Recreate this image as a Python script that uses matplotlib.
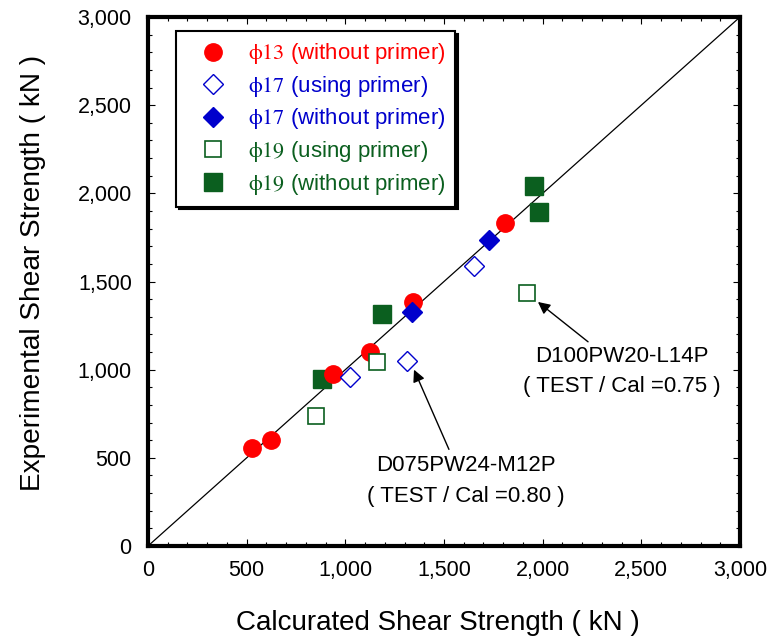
import matplotlib
matplotlib.use('agg')
import matplotlib.pyplot as plt
from matplotlib.ticker import AutoMinorLocator, FuncFormatter, MultipleLocator

plt.rcParams['font.family'] = ['Liberation Sans', 'DejaVu Sans']
plt.rcParams['mathtext.fontset'] = 'stix'

RED = '#ff0000'
BLUE = '#0000cc'
GREEN = '#0b5f1f'

# (calculated, experimental) in kN
phi13_wo_x = [525, 623, 937, 1125, 1344, 1811]
phi13_wo_y = [554, 600, 977, 1103, 1386, 1829]

phi17_p_x = [1024, 1311, 1654]
phi17_p_y = [960, 1047, 1588]

phi17_wo_x = [1338, 1727]
phi17_wo_y = [1329, 1738]

phi19_p_x = [850, 1159, 1919]
phi19_p_y = [736, 1041, 1433]

phi19_wo_x = [882, 1187, 1956, 1981]
phi19_wo_y = [949, 1316, 2043, 1894]

labels = [r'$\mathrm{\phi 13}$ (without primer)',
          r'$\mathrm{\phi 17}$ (using primer)',
          r'$\mathrm{\phi 17}$ (without primer)',
          r'$\mathrm{\phi 19}$ (using primer)',
          r'$\mathrm{\phi 19}$ (without primer)']
label_colors = [RED, BLUE, BLUE, GREEN, GREEN]

fig = plt.figure(figsize=(7.73, 6.42), dpi=100)
ax = fig.add_axes([148 / 773, 1 - 546 / 642, 592 / 773, 529 / 642])

ax.plot([0, 3000], [0, 3000], color='k', lw=0.9, zorder=1)

ax.plot(phi13_wo_x, phi13_wo_y, 'o', ms=12.5, color=RED, mec=RED,
        ls='none', label=labels[0], zorder=3)
ax.plot(phi17_p_x, phi17_p_y, 'D', ms=10, mfc='white', mec=BLUE,
        mew=1.0, ls='none', label=labels[1], zorder=4)
ax.plot(phi17_wo_x, phi17_wo_y, 'D', ms=10, color=BLUE, mec=BLUE,
        ls='none', label=labels[2], zorder=4)
ax.plot(phi19_p_x, phi19_p_y, 's', ms=12, mfc='white', mec=GREEN,
        mew=1.2, ls='none', label=labels[3], zorder=3)
ax.plot(phi19_wo_x, phi19_wo_y, 's', ms=12.5, color=GREEN, mec=GREEN,
        ls='none', label=labels[4], zorder=2)

# outlier notes
arrow = dict(arrowstyle='-|>', color='k', lw=1.0, mutation_scale=18,
             shrinkA=0, shrinkB=0)
ax.annotate('', xy=(1976, 1384), xytext=(2230, 1158), arrowprops=arrow)
ax.text(2400, 990, 'D100PW20-L14P\n( TEST / Cal =0.75 )', ha='center',
        va='center', fontsize=16, linespacing=1.55)
ax.annotate('', xy=(1348, 1000), xytext=(1525, 548), arrowprops=arrow)
ax.text(1611, 370, 'D075PW24-M12P\n( TEST / Cal =0.80 )', ha='center',
        va='center', fontsize=16, linespacing=1.6)

ax.set_xlim(0, 3000)
ax.set_ylim(0, 3000)
ax.xaxis.set_major_locator(MultipleLocator(500))
ax.yaxis.set_major_locator(MultipleLocator(500))
ax.xaxis.set_minor_locator(AutoMinorLocator(5))
ax.yaxis.set_minor_locator(AutoMinorLocator(5))
fmt = FuncFormatter(lambda v, p: '{:,.0f}'.format(v))
ax.xaxis.set_major_formatter(fmt)
ax.yaxis.set_major_formatter(fmt)
ax.tick_params(which='both', direction='in', top=True, right=True,
               labelsize=15.5, width=0.8)
ax.tick_params(which='major', length=5)
ax.tick_params(axis='x', which='major', pad=10)
ax.tick_params(axis='y', which='major', pad=11.7)
ax.tick_params(which='minor', length=3)
for s in ax.spines.values():
    s.set_linewidth(3)

ax.set_xlabel('Calcurated Shear Strength ( kN )', fontsize=20)
ax.xaxis.set_label_coords(0.49, -0.159)
ax.xaxis.label.set_va('baseline')
ax.set_ylabel('Experimental Shear Strength ( kN )', fontsize=20.2)
ax.yaxis.set_label_coords(-0.172, 0.517)

leg = ax.legend(loc='upper left', bbox_to_anchor=(0.047, 0.973),
                borderaxespad=0, fontsize=16, fancybox=False,
                edgecolor='k', framealpha=1, numpoints=1,
                shadow={'color': 'black', 'alpha': 1},
                labelspacing=0.34, handlelength=2.43, handletextpad=0.36,
                borderpad=0.45)
leg.get_frame().set_linewidth(1.5)
for t, c in zip(leg.get_texts(), label_colors):
    t.set_color(c)

fig.savefig('out.png', dpi=100)
